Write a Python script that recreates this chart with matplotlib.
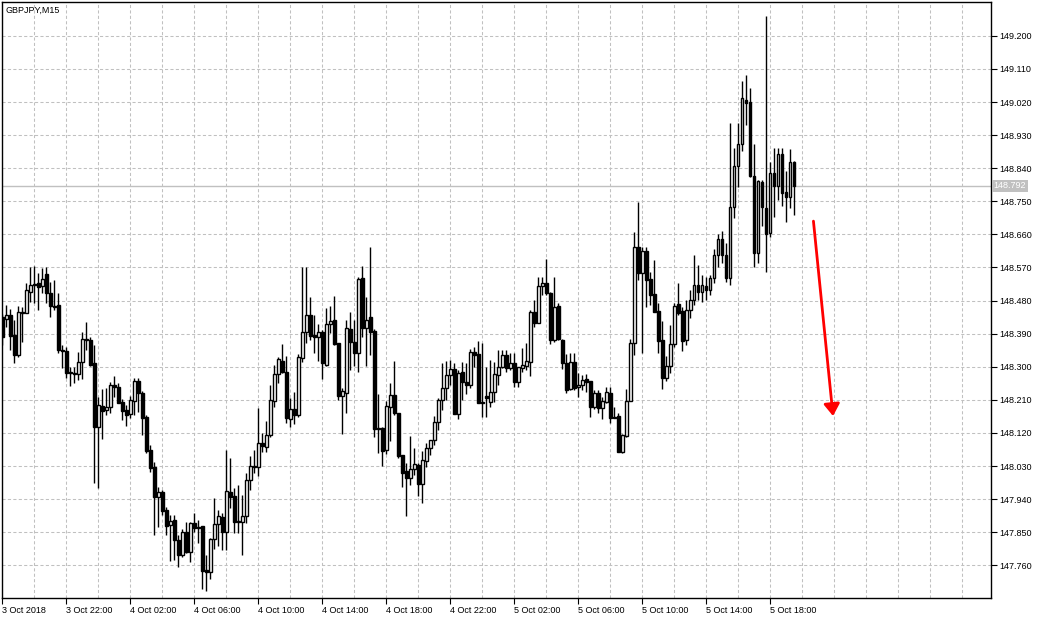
import numpy as np
import matplotlib.pyplot as plt
from matplotlib import transforms

plt.rcParams['font.family'] = ['Liberation Sans', 'DejaVu Sans']

symbol = 'GBPJPY,M15'

# GBPJPY M15 bars, 3 Oct 18:00 -> 5 Oct 19:30
opens = [
    148.435, 148.430, 148.440, 148.386, 148.331, 148.446, 148.446, 148.503, 148.525, 148.528,
    148.520, 148.552, 148.500, 148.465, 148.467, 148.345, 148.342, 148.286, 148.283, 148.280,
    148.313, 148.375, 148.372, 148.310, 148.136, 148.193, 148.182, 148.190, 148.250, 148.245,
    148.204, 148.182, 148.171, 148.207, 148.261, 148.229, 148.163, 148.073, 148.027, 147.946,
    147.960, 147.910, 147.869, 147.883, 147.829, 147.788, 147.851, 147.796, 147.875, 147.861,
    147.867, 147.747, 147.742, 147.831, 147.872, 147.891, 147.851, 147.960, 147.948, 147.878,
    147.878, 147.894, 147.992, 148.030, 148.027, 148.092, 148.082, 148.114, 148.207, 148.280,
    148.315, 148.286, 148.158, 148.185, 148.168, 148.323, 148.395, 148.440, 148.386, 148.381,
    148.395, 148.304, 148.416, 148.427, 148.364, 148.220, 148.229, 148.403, 148.367, 148.337,
    148.541, 148.405, 148.435, 148.397, 148.133, 148.133, 148.073, 148.190, 148.223, 148.174,
    148.060, 148.016, 147.997, 148.022, 148.033, 147.981, 148.044, 148.079, 148.101, 148.150,
    148.209, 148.242, 148.277, 148.294, 148.171, 148.286, 148.259, 148.250, 148.340, 148.334,
    148.204, 148.220, 148.204, 148.231, 148.277, 148.299, 148.331, 148.296, 148.310, 148.259,
    148.296, 148.302, 148.313, 148.449, 148.419, 148.520, 148.528, 148.500, 148.372, 148.465,
    148.372, 148.310, 148.239, 148.313, 148.245, 148.250, 148.267, 148.261, 148.190, 148.229,
    148.188, 148.204, 148.229, 148.163, 148.166, 148.068, 148.111, 148.207, 148.364, 148.625,
    148.555, 148.614, 148.539, 148.497, 148.451, 148.372, 148.269, 148.302, 148.361, 148.470,
    148.451, 148.372, 148.454, 148.481, 148.522, 148.503, 148.520, 148.508, 148.541, 148.604,
    148.647, 148.604, 148.541, 148.734, 148.846, 148.905, 149.025, 149.020, 148.818, 148.609,
    148.802, 148.731, 148.663, 148.827, 148.791, 148.878, 148.775, 148.761, 148.857,
]
highs = [
    148.443, 148.467, 148.457, 148.427, 148.465, 148.462, 148.528, 148.571, 148.574, 148.555,
    148.568, 148.571, 148.531, 148.536, 148.500, 148.358, 148.353, 148.299, 148.299, 148.340,
    148.395, 148.422, 148.381, 148.358, 148.217, 148.239, 148.242, 148.259, 148.275, 148.256,
    148.212, 148.196, 148.220, 148.269, 148.269, 148.234, 148.168, 148.087, 148.041, 147.973,
    147.965, 147.918, 147.897, 147.897, 147.842, 147.859, 147.878, 147.878, 147.902, 147.883,
    147.867, 147.788, 147.834, 147.943, 147.910, 147.902, 148.073, 148.052, 147.970, 147.978,
    147.951, 148.011, 148.057, 148.073, 148.187, 148.120, 148.152, 148.250, 148.304, 148.326,
    148.361, 148.329, 148.215, 148.231, 148.334, 148.571, 148.571, 148.489, 148.440, 148.416,
    148.400, 148.459, 148.465, 148.492, 148.364, 148.242, 148.427, 148.449, 148.427, 148.544,
    148.574, 148.489, 148.625, 148.403, 148.226, 148.136, 148.207, 148.256, 148.315, 148.174,
    148.060, 148.038, 148.111, 148.079, 148.038, 148.071, 148.092, 148.098, 148.166, 148.215,
    148.310, 148.315, 148.318, 148.310, 148.291, 148.313, 148.310, 148.348, 148.353, 148.370,
    148.364, 148.299, 148.318, 148.313, 148.345, 148.345, 148.345, 148.337, 148.337, 148.299,
    148.351, 148.364, 148.454, 148.481, 148.544, 148.544, 148.593, 148.503, 148.544, 148.473,
    148.375, 148.334, 148.337, 148.337, 148.283, 148.277, 148.280, 148.261, 148.237, 148.237,
    148.218, 148.245, 148.245, 148.190, 148.174, 148.117, 148.239, 148.375, 148.666, 148.748,
    148.625, 148.625, 148.558, 148.590, 148.473, 148.424, 148.329, 148.413, 148.473, 148.528,
    148.462, 148.481, 148.508, 148.604, 148.576, 148.549, 148.544, 148.549, 148.620, 148.661,
    148.669, 148.636, 148.963, 148.895, 148.963, 149.077, 149.093, 149.058, 148.905, 148.808,
    148.808, 149.253, 148.857, 148.895, 148.895, 148.895, 148.832, 148.892, 148.859,
]
lows = [
    148.358, 148.408, 148.345, 148.310, 148.326, 148.367, 148.446, 148.476, 148.473, 148.454,
    148.500, 148.473, 148.435, 148.454, 148.337, 148.296, 148.269, 148.248, 148.256, 148.264,
    148.267, 148.345, 148.302, 147.984, 147.970, 148.103, 148.168, 148.174, 148.218, 148.201,
    148.155, 148.139, 148.160, 148.168, 148.177, 148.114, 148.065, 148.014, 147.842, 147.864,
    147.897, 147.842, 147.771, 147.774, 147.755, 147.782, 147.793, 147.769, 147.851, 147.820,
    147.696, 147.690, 147.723, 147.804, 147.812, 147.801, 147.801, 147.916, 147.848, 147.848,
    147.788, 147.875, 147.965, 148.011, 148.003, 148.068, 148.068, 148.109, 148.190, 148.256,
    148.283, 148.147, 148.136, 148.144, 148.163, 148.313, 148.364, 148.372, 148.337, 148.315,
    148.267, 148.302, 148.392, 148.358, 148.209, 148.117, 148.174, 148.291, 148.302, 148.286,
    148.381, 148.302, 148.331, 148.109, 148.065, 148.030, 148.063, 148.098, 148.168, 148.052,
    147.973, 147.894, 147.978, 148.005, 147.948, 147.929, 148.027, 148.060, 148.087, 148.128,
    148.182, 148.209, 148.250, 148.171, 148.158, 148.209, 148.226, 148.242, 148.299, 148.201,
    148.163, 148.163, 148.190, 148.204, 148.250, 148.296, 148.286, 148.291, 148.245, 148.245,
    148.286, 148.291, 148.275, 148.408, 148.419, 148.495, 148.495, 148.361, 148.367, 148.372,
    148.294, 148.229, 148.237, 148.237, 148.218, 148.237, 148.231, 148.163, 148.185, 148.174,
    148.158, 148.201, 148.147, 148.160, 148.068, 148.065, 148.109, 148.207, 148.331, 148.536,
    148.337, 148.462, 148.467, 148.449, 148.337, 148.239, 148.261, 148.283, 148.353, 148.440,
    148.342, 148.358, 148.432, 148.467, 148.481, 148.476, 148.481, 148.495, 148.528, 148.571,
    148.582, 148.530, 148.522, 148.704, 148.789, 148.886, 148.957, 148.816, 148.571, 148.582,
    148.682, 148.558, 148.653, 148.707, 148.753, 148.737, 148.693, 148.731, 148.712,
]
closes = [
    148.381, 148.440, 148.384, 148.331, 148.449, 148.449, 148.508, 148.522, 148.522, 148.517,
    148.539, 148.500, 148.465, 148.462, 148.345, 148.342, 148.283, 148.283, 148.280, 148.313,
    148.375, 148.372, 148.304, 148.136, 148.196, 148.179, 148.190, 148.250, 148.245, 148.201,
    148.179, 148.168, 148.209, 148.261, 148.229, 148.160, 148.071, 148.024, 147.946, 147.960,
    147.908, 147.867, 147.880, 147.829, 147.788, 147.851, 147.796, 147.875, 147.861, 147.864,
    147.744, 147.742, 147.831, 147.872, 147.894, 147.851, 147.962, 147.946, 147.878, 147.878,
    147.894, 147.992, 148.030, 148.027, 148.092, 148.084, 148.114, 148.209, 148.280, 148.321,
    148.286, 148.160, 148.185, 148.168, 148.326, 148.395, 148.440, 148.384, 148.381, 148.395,
    148.310, 148.416, 148.424, 148.361, 148.220, 148.234, 148.405, 148.367, 148.337, 148.539,
    148.405, 148.427, 148.395, 148.131, 148.131, 148.071, 148.193, 148.223, 148.174, 148.057,
    148.011, 147.997, 148.022, 148.035, 147.981, 148.046, 148.079, 148.101, 148.150, 148.209,
    148.242, 148.277, 148.294, 148.171, 148.283, 148.259, 148.250, 148.340, 148.331, 148.201,
    148.201, 148.215, 148.231, 148.280, 148.299, 148.331, 148.296, 148.310, 148.259, 148.299,
    148.304, 148.315, 148.449, 148.419, 148.520, 148.528, 148.500, 148.372, 148.462, 148.375,
    148.310, 148.237, 148.313, 148.242, 148.250, 148.264, 148.259, 148.190, 148.229, 148.188,
    148.207, 148.231, 148.160, 148.160, 148.068, 148.114, 148.207, 148.364, 148.625, 148.555,
    148.614, 148.536, 148.495, 148.449, 148.370, 148.269, 148.302, 148.361, 148.465, 148.446,
    148.370, 148.454, 148.481, 148.522, 148.503, 148.522, 148.508, 148.541, 148.604, 148.647,
    148.604, 148.541, 148.734, 148.846, 148.905, 149.031, 149.017, 148.818, 148.609, 148.805,
    148.734, 148.661, 148.827, 148.791, 148.878, 148.772, 148.761, 148.857, 148.791,
]

time_labels = ['3 Oct 2018', '3 Oct 22:00', '4 Oct 02:00', '4 Oct 06:00', '4 Oct 10:00',
               '4 Oct 14:00', '4 Oct 18:00', '4 Oct 22:00', '5 Oct 02:00', '5 Oct 06:00',
               '5 Oct 10:00', '5 Oct 14:00', '5 Oct 18:00']
time_label_bars = [0, 16, 32, 48, 64, 80, 96, 112, 128, 144, 160, 176, 192]
price_ticks = [147.760, 147.850, 147.940, 148.030, 148.120, 148.210, 148.300, 148.390,
               148.480, 148.570, 148.660, 148.750, 148.840, 148.930, 149.020, 149.110, 149.200]
bid = 148.792

# hand-drawn arrow (bar index, price)
arrow_from = (202.8, 148.696)
arrow_to = (207.7, 148.166)

o = np.array(opens)
h = np.array(highs)
l = np.array(lows)
c = np.array(closes)
x = np.arange(len(o))
up = c >= o

fig = plt.figure(figsize=(10.44, 6.19), dpi=100)
ax = fig.add_axes([2 / 1044, 21 / 619, 989 / 1044, 596 / 619])
ax.set_facecolor('white')

ax.vlines(x, l, h, color='black', linewidth=1, zorder=3)
body_bottom = np.minimum(o, c)
body_height = np.maximum(np.abs(c - o), 0.0012)
ax.bar(x[up], body_height[up], bottom=body_bottom[up], width=0.62,
       facecolor='white', edgecolor='black', linewidth=1, zorder=4)
ax.bar(x[~up], body_height[~up], bottom=body_bottom[~up], width=0.62,
       facecolor='black', edgecolor='black', linewidth=1, zorder=4)

ax.axhline(bid, color='#c0c0c0', linewidth=1, zorder=2)

ax.annotate('', xy=arrow_to, xytext=arrow_from,
            arrowprops=dict(arrowstyle='-|>,head_length=0.6,head_width=0.4',
                            color='#ff0000', lw=2, mutation_scale=12,
                            shrinkA=0, shrinkB=0), zorder=5)

ax.set_xlim(-0.1, 247.2)
ax.set_ylim(147.671, 149.292)

ax.set_xticks(time_label_bars)
ax.set_xticklabels(time_labels)
ax.set_xticks(np.arange(8, 247, 8), minor=True)
ax.set_yticks(price_ticks)
ax.set_yticklabels(['%.3f' % p for p in price_ticks])

ax.yaxis.tick_right()
ax.tick_params(axis='y', which='major', direction='out', length=4, width=0.8,
               pad=2, labelsize=6.5, colors='black')
ax.tick_params(axis='x', which='major', direction='out', length=4, width=0.8,
               pad=2, labelsize=6.5)
ax.tick_params(axis='x', which='minor', length=0)
for lbl in ax.get_xticklabels():
    lbl.set_horizontalalignment('left')

ax.grid(True, which='both', axis='x', color='#c0c0c0', linestyle=(0, (3, 2.2)),
        linewidth=0.75, zorder=0)
ax.grid(True, which='major', axis='y', color='#c0c0c0', linestyle=(0, (3, 2.2)),
        linewidth=0.75, zorder=0)
ax.set_axisbelow(True)

for sp in ax.spines.values():
    sp.set_color('black')
    sp.set_linewidth(1)

trans = transforms.blended_transform_factory(ax.transAxes, ax.transData)
ax.text(1.0025, bid, '%.3f' % bid, transform=trans, color='white', fontsize=6.5,
        va='center', ha='left',
        bbox=dict(facecolor='#c0c0c0', edgecolor='none', pad=1.2), clip_on=False)

fig.text(5 / 1044, 1 - 10 / 619, symbol, fontsize=6.5, va='center', ha='left')

fig.savefig('out.png', dpi=100)
